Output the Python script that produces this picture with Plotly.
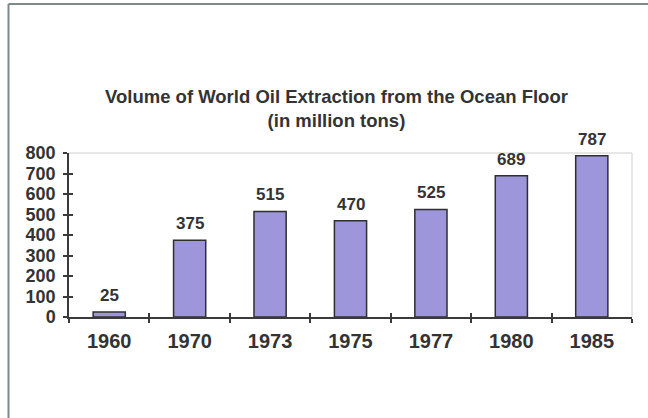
import plotly.graph_objects as go

# Offshore oil extraction, million tons
years = ["1960", "1970", "1973", "1975", "1977", "1980", "1985"]
volumes = [25, 375, 515, 470, 525, 689, 787]
y_ticks = [0, 100, 200, 300, 400, 500, 600, 700, 800]

W, H = 648, 418
ML, MR, MT, MB = 69, 16, 153, 101
plot_w = W - ML - MR
plot_h = H - MT - MB

TEXT = "#333333"
AXIS = "#3a3a3a"
FONT = "Liberation Sans, Arial, sans-serif"


def px_x(x):
    return (x - ML) / plot_w


def px_y(y):
    return (H - MB - y) / plot_h


fig = go.Figure()

fig.add_trace(go.Bar(
    x=years,
    y=volumes,
    width=0.4,
    marker=dict(color="#9d96da", line=dict(color="#2f2f2f", width=1.5)),
    hoverinfo="skip",
    showlegend=False,
))

# Empty trace on the overlay axes that draw the inward half of each tick
fig.add_trace(go.Scatter(x=years, y=[None] * len(years), xaxis="x2", yaxis="y2",
                         mode="markers", showlegend=False, hoverinfo="skip"))

# Value labels above each bar (category index positions on the x axis)
for i, v in enumerate(volumes):
    fig.add_annotation(
        x=i, y=v, text=f"<b>{v}</b>", showarrow=False,
        yanchor="bottom", yshift=5,
        font=dict(family=FONT, size=17, color=TEXT),
    )

# Two-line title
fig.add_annotation(
    xref="paper", yref="paper", x=px_x(336), y=px_y(133),
    xanchor="center", yanchor="bottom", showarrow=False,
    text="<b>Volume of World Oil Extraction from the Ocean Floor<br>(in million tons)</b>",
    font=dict(family=FONT, size=18.5, color=TEXT),
)

cat_range = [-0.5, len(years) - 0.5]

fig.update_layout(
    width=W, height=H,
    margin=dict(l=ML, r=MR, t=MT, b=MB, pad=0),
    paper_bgcolor="white", plot_bgcolor="white",
    bargap=0.6,
    xaxis=dict(type="category", categoryorder="array", categoryarray=years,
               range=cat_range, tickson="boundaries",
               tickmode="array", tickvals=years,
               ticktext=[f"<b>{y}</b>" for y in years],
               ticks="outside", ticklen=4, tickcolor=AXIS, tickwidth=1.5,
               showline=True, linecolor=AXIS, linewidth=1.5,
               showgrid=False, zeroline=False, tickangle=0,
               tickfont=dict(family=FONT, size=20, color=TEXT),
               ticklabelstandoff=5),
    yaxis=dict(range=[0, 800], tickmode="array", tickvals=y_ticks,
               ticktext=[f"<b>{t}</b>" for t in y_ticks],
               ticks="outside", ticklen=4, tickcolor=AXIS, tickwidth=1.5,
               showline=True, linecolor=AXIS, linewidth=1.5,
               showgrid=False, zeroline=False,
               tickfont=dict(family=FONT, size=18, color=TEXT),
               ticklabelstandoff=4),
    xaxis2=dict(overlaying="x", type="category", categoryorder="array",
                categoryarray=years, range=cat_range, tickson="boundaries",
                ticks="inside", ticklen=4, tickcolor=AXIS, tickwidth=1.5,
                showticklabels=False, showgrid=False, zeroline=False,
                showline=False),
    yaxis2=dict(overlaying="y", range=[0, 800], tickmode="array", tickvals=y_ticks,
                ticks="inside", ticklen=4, tickcolor=AXIS, tickwidth=1.5,
                showticklabels=False, showgrid=False, zeroline=False,
                showline=False),
    shapes=[
        # light plot frame on top and right
        dict(type="line", xref="paper", yref="paper", x0=0, x1=1, y0=1, y1=1,
             line=dict(color="#cfcfcf", width=1)),
        dict(type="line", xref="paper", yref="paper", x0=1, x1=1, y0=0, y1=1,
             line=dict(color="#cfcfcf", width=1)),
        # outer border of the page
        dict(type="line", xref="paper", yref="paper",
             x0=px_x(8.5), x1=px_x(8.5), y0=px_y(4), y1=px_y(H + 5),
             line=dict(color="#7d8a88", width=2)),
        dict(type="line", xref="paper", yref="paper",
             x0=px_x(8.5), x1=px_x(W + 5), y0=px_y(4), y1=px_y(4),
             line=dict(color="#7d8a88", width=2)),
    ],
)

fig.write_html("out.html")
